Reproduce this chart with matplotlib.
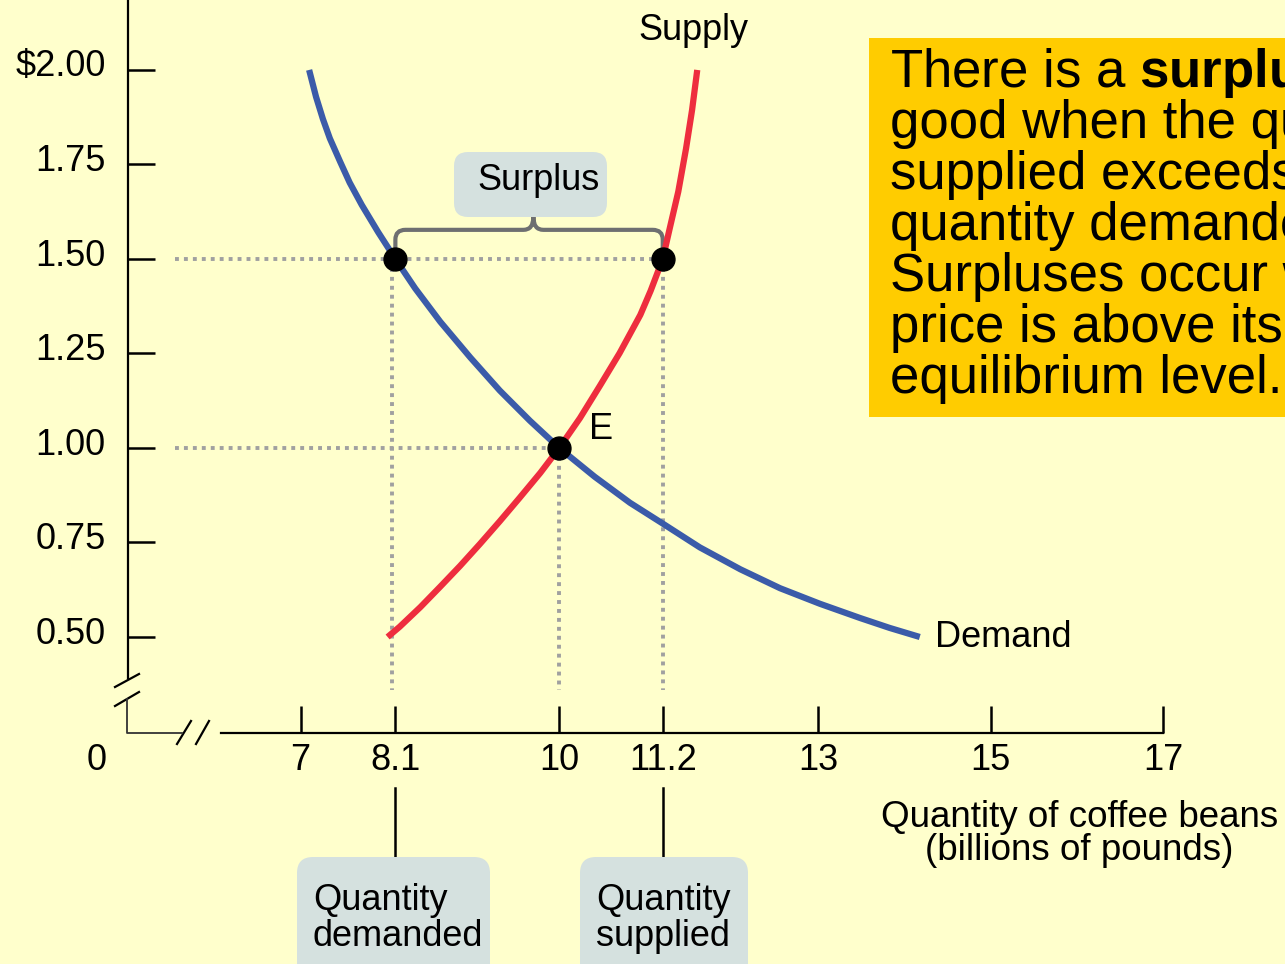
import matplotlib.pyplot as plt
from matplotlib.patches import FancyBboxPatch, Rectangle, PathPatch
from matplotlib.path import Path
from matplotlib.lines import Line2D
from matplotlib.transforms import IdentityTransform, ScaledTranslation, blended_transform_factory

plt.rcParams['font.family'] = ['Liberation Sans', 'DejaVu Sans']
plt.rcParams['mathtext.fontset'] = 'custom'
plt.rcParams['mathtext.rm'] = 'Liberation Sans'
plt.rcParams['mathtext.bf'] = 'Liberation Sans:bold'

# data
price_ticks = [0.50, 0.75, 1.00, 1.25, 1.50, 1.75, 2.00]
price_labels = ['0.50', '0.75', '1.00', '1.25', '1.50', '1.75', '$2.00']
qty_ticks = [7, 8.1, 10, 11.2, 13, 15, 17]
qty_labels = ['7', '8.1', '10', '11.2', '13', '15', '17']

demand_q = [7.10, 7.18, 7.26, 7.34, 7.46, 7.57, 7.71, 7.90, 8.10, 8.33, 8.62, 8.97, 9.31,
            9.66, 10.0, 10.41, 10.82, 11.2, 11.63, 12.10, 12.56, 13.02, 13.49, 13.83, 14.18]
demand_p = [2.0, 1.929, 1.870, 1.819, 1.757, 1.702, 1.643, 1.571, 1.5, 1.422, 1.334, 1.239, 1.152,
            1.072, 1.0, 0.924, 0.855, 0.80, 0.737, 0.679, 0.629, 0.588, 0.550, 0.524, 0.50]
supply_q = [8.01, 8.15, 8.39, 8.62, 8.85, 9.08, 9.31, 9.54, 9.78, 10.0, 10.24, 10.47,
            10.70, 10.94, 11.06, 11.2, 11.28, 11.38, 11.47, 11.54, 11.60]
supply_p = [0.50, 0.527, 0.579, 0.633, 0.688, 0.746, 0.806, 0.868, 0.934, 1.0, 1.079, 1.164,
            1.251, 1.352, 1.416, 1.5, 1.580, 1.678, 1.792, 1.894, 2.0]

surplus_price = 1.5
qty_demanded = 8.1
qty_supplied = 11.2
eq_qty = 10
eq_price = 1.0

W, H = 1285, 964
BG = '#FFFFCC'
BLUE = '#3B5BA9'
RED = '#EE2D3E'
GUIDE = '#A0A0A0'
BOXC = '#D5E1DF'

fig = plt.figure(figsize=(W / 100, H / 100), dpi=100, facecolor=BG)
ax = fig.add_axes([128 / W, 1 - 733 / H, 1035 / W, 733 / H])
ax.patch.set_visible(False)
ax.set_xlim(5, 17)
ax.set_ylim(0.246, 2.185)
pix = IdentityTransform()

# axes
for s in ['top', 'right']:
    ax.spines[s].set_visible(False)
ax.spines['left'].set_bounds(0.392, 2.185)
ax.spines['bottom'].set_bounds(6.08, 17)
ax.spines['left'].set_linewidth(1.6)
ax.spines['bottom'].set_linewidth(1.6)

ax.set_xticks(qty_ticks, qty_labels)
ax.set_yticks(price_ticks, price_labels)
ax.tick_params(direction='in', length=19.5, width=1.8, labelsize=26, colors='black')
ax.tick_params(axis='y', pad=16)
ax.tick_params(axis='x', pad=7)
off = ScaledTranslation(0, 5 / 72, fig.dpi_scale_trans)
for lab in ax.get_yticklabels():
    lab.set_transform(lab.get_transform() + off)

# axis breaks and corner
for xs, ys in [([115, 139], [687, 674]), ([115, 139], [706, 692]),
               ([177, 191], [744, 721]), ([196, 209], [744, 721])]:
    fig.add_artist(Line2D(xs, [H - y for y in ys], transform=pix, color='black', lw=1.6))
fig.add_artist(Line2D([127, 127, 182], [H - 699, H - 733, H - 733], transform=pix,
                      color='#333333', lw=1.3))
fig.text(97, H - 760, '0', transform=pix, fontsize=26, ha='center', va='center')

# dotted guides
guide_left = 5.545
guide_bottom = 0.36
dot_kw = dict(color=GUIDE, lw=2.8, dashes=(1.0, 1.3), dash_capstyle='butt', zorder=1, clip_on=False)
ax.plot([guide_left, qty_supplied], [surplus_price, surplus_price], **dot_kw)
ax.plot([guide_left, eq_qty], [eq_price, eq_price], **dot_kw)
ax.plot([qty_demanded - 0.04, qty_demanded - 0.04], [surplus_price, guide_bottom], **dot_kw)
ax.plot([eq_qty, eq_qty], [eq_price, guide_bottom], **dot_kw)
ax.plot([qty_supplied, qty_supplied], [surplus_price, guide_bottom], **dot_kw)

# curves
ax.plot(demand_q, demand_p, color=BLUE, lw=4.5, solid_capstyle='butt',
        solid_joinstyle='round', zorder=3, clip_on=False)
ax.plot(supply_q, supply_p, color=RED, lw=4.5, solid_capstyle='butt',
        solid_joinstyle='round', zorder=3, clip_on=False)

# brace over the surplus
by, cy = 1.577, 1.611
rq, rp = 0.116, 0.026
mid = (qty_demanded + qty_supplied) / 2 + 0.05
verts = [(qty_demanded, surplus_price), (qty_demanded, by - rp),
         (qty_demanded, by), (qty_demanded + rq, by),
         (mid - rq, by),
         (mid, by), (mid, cy),
         (mid, by), (mid + rq, by),
         (qty_supplied - rq, by),
         (qty_supplied, by), (qty_supplied, by - rp),
         (qty_supplied, surplus_price)]
codes = [Path.MOVETO, Path.LINETO, Path.CURVE3, Path.CURVE3, Path.LINETO,
         Path.CURVE3, Path.CURVE3, Path.CURVE3, Path.CURVE3, Path.LINETO,
         Path.CURVE3, Path.CURVE3, Path.LINETO]
ax.add_patch(PathPatch(Path(verts, codes), fill=False, ec='#6E6F71', lw=3,
                       capstyle='round', joinstyle='round', zorder=2, clip_on=False))

# points
ax.plot([qty_demanded, qty_supplied, eq_qty], [surplus_price, surplus_price, eq_price],
        'o', color='black', ms=16.5, zorder=5, clip_on=False)

# curve labels
fig.text(693, H - 40, 'Supply', transform=pix, fontsize=26, ha='center', va='baseline')
fig.text(935, H - 647, 'Demand', transform=pix, fontsize=26, ha='left', va='baseline')
fig.text(589, H - 439, 'E', transform=pix, fontsize=26, ha='left', va='baseline')

# surplus tag
fig.add_artist(FancyBboxPatch((454, H - 217), 153, 65, boxstyle='round,pad=0,rounding_size=14',
                              transform=pix, fc=BOXC, ec='none'))
fig.text(477, H - 190, 'Surplus', transform=pix, fontsize=26, ha='left', va='baseline')

# quantity tags
blend = blended_transform_factory(ax.transData, pix)
for q in [qty_demanded, qty_supplied]:
    ax.plot([q, q], [H - 788, H - 857], transform=blend, color='black', lw=1.8, clip_on=False)
for x0, w, lines in [(297, 193, ['Quantity', 'demanded']), (580, 168, ['Quantity', 'supplied'])]:
    fig.add_artist(FancyBboxPatch((x0, H - 1010), w, 1010 - 857,
                                  boxstyle='round,pad=0,rounding_size=16',
                                  transform=pix, fc=BOXC, ec='none'))
    for i, s in enumerate(lines):
        fig.text(x0 + 16, H - 910 - 36 * i, s, transform=pix, fontsize=26,
                 ha='left', va='baseline')

# x axis title
fig.text(1080, H - 827, 'Quantity of coffee beans', transform=pix, fontsize=26.5,
         ha='center', va='baseline')
fig.text(1079, H - 860, '(billions of pounds)', transform=pix, fontsize=26.5,
         ha='center', va='baseline')

# explanation box (runs off the right edge, as in the original slide)
fig.add_artist(Rectangle((869, H - 417), 500, 379, transform=pix, fc='#FFCC00', ec='none'))
note_lines = [r'There is a $\mathbf{surplus}$ of a', 'good when the quantity',
              'supplied exceeds the', 'quantity demanded.', 'Surpluses occur when the',
              'price is above its', 'equilibrium level.']
for i, s in enumerate(note_lines):
    fig.text(890, H - 87 - 51 * i, s, transform=pix, fontsize=38, ha='left', va='baseline')

fig.savefig('out.png', dpi=100, facecolor=BG)
